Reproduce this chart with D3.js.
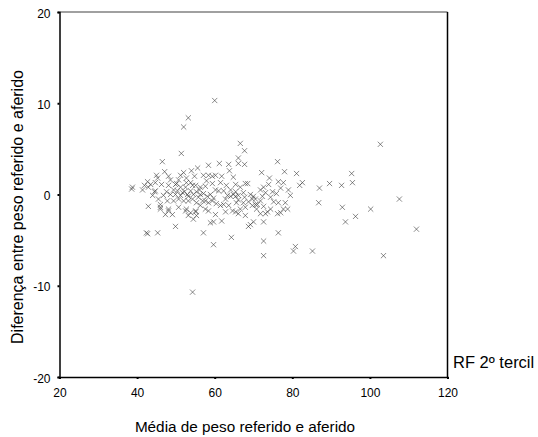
<!DOCTYPE html>
<html><head><meta charset="utf-8">
<script src="https://cdn.jsdelivr.net/npm/d3@7"></script>
<style>body{margin:0;background:#fff}svg{display:block}text{font-family:"Liberation Sans",Arial,sans-serif;fill:#000}</style>
</head><body>
<script>
const xTicks = [20, 40, 60, 80, 100, 120];
const yTicks = [-20, -10, 0, 10, 20];
const xLabel = "Média de peso referido e aferido";
const yLabel = "Diferença entre peso referido e aferido";
const groupLabel = "RF 2º tercil";
// mean weight (x)
const meanWeight = [
60.0,53.2,52.0,66.6,67.7,51.4,102.7,46.5,58.4,61.2,63.6,66.1,67.7,66.1,63.8,47.1,45.0,52.0,54.0,55.6,
42.7,44.7,38.8,38.6,42.9,42.4,42.7,45.3,49.9,57.1,58.9,61.8,64.3,68.7,69.2,70.0,59.7,72.6,72.6,76.4,
80.8,80.3,85.2,103.5,54.3,76.2,78.0,72.1,81.1,74.1,76.4,77.7,82.6,81.9,87.0,89.6,92.7,95.3,95.5,86.8,
92.9,100.2,107.6,96.3,93.7,112.0,77.0,67.9,68.5,71.8,72.6,73.1,72.3,74.9,70.0,70.5,71.0,67.4,67.9,66.6,
72.6,75.2,76.4,78.2,74.4,76.2,77.7,73.1,72.6,73.6,78.8,77.0,69.2,65.4,66.1,64.8,59.4,60.2,48.1,54.8,
57.1,58.4,61.8,59.4,65.4,42.9,44.7,46.3,48.1,49.4,50.4,51.7,52.5,53.8,54.5,53.0,55.8,56.9,57.6,58.9,
60.2,61.0,62.3,64.1,63.3,64.8,66.1,67.4,45.5,46.0,47.8,49.4,49.9,50.7,52.0,53.2,46.0,48.1,49.1,52.5,
53.2,55.1,54.5,57.6,58.4,62.3,63.6,64.6,65.4,66.1,69.7,70.5,71.8,45.3,44.5,51.2,54.3,55.3,56.3,52.7,
49.9,57.6,50.7,56.3,59.7,43.5,41.4,46.0,48.1,52.7,53.8,55.1,58.4,59.7,
48.6,50.2,51.2,52.2,53.2,54.3,55.3,56.3,51.2,52.7,53.8,55.1,56.1,57.1,58.1,59.4,60.4,61.5,62.8,64.1,
65.4,66.6,67.7,68.7,69.7,70.8,71.8,65.6,63.0,61.5,57.9,47.6,46.8,48.6,44.0,41.9,47.3,50.7,55.3,60.2,
62.8,67.9,74.4,75.9,79.5,79.0,73.9
];
// difference reported - measured (y)
const diffWeight = [
10.3,8.4,7.4,5.6,4.8,4.5,5.5,3.6,3.2,3.4,3.3,4.0,3.3,3.4,2.6,2.5,2.1,2.4,2.6,2.9,
1.4,1.3,0.8,0.6,-1.3,-4.2,-4.3,-4.2,-3.5,-4.2,-3.1,-2.9,-4.7,-3.5,-3.3,-3.0,-5.5,-5.1,-6.7,-4.2,
-5.7,-6.2,-6.2,-6.7,-10.7,3.6,2.5,2.4,2.3,1.8,1.4,1.3,1.3,1.0,0.7,1.2,1.0,2.3,1.3,-0.9,
-1.4,-1.6,-0.5,-2.4,-3.0,-3.8,0.7,1.2,1.2,0.5,0.8,0.2,-0.2,0.3,-0.2,-0.5,-1.1,-0.9,-1.4,-1.6,
-1.3,-0.8,-0.9,-0.9,-1.6,-2.1,-1.6,-2.1,-3.0,-1.9,-1.6,-2.0,0.0,-1.9,-2.1,1.9,2.0,2.1,2.0,2.0,
2.1,2.1,2.0,1.2,1.1,0.8,0.4,1.1,1.0,0.5,0.4,0.2,0.8,0.4,0.0,0.0,-0.3,-0.7,-0.7,0.0,
0.5,0.4,0.4,0.5,-0.1,0.0,-0.1,0.2,-0.5,-1.1,-0.7,-0.7,0.0,-0.5,-0.7,-0.7,-1.6,-1.6,-2.2,-1.8,
-2.3,-1.8,-2.7,-1.6,-1.8,-1.1,-1.2,-1.8,-0.2,-0.6,-0.5,-1.1,-0.7,1.8,0.3,-0.1,1.0,0.3,0.8,1.3,
1.1,0.9,1.6,0.0,-0.4,1.1,0.5,-1.4,-1.8,-1.6,-2.0,-1.9,-0.9,-3.0,
1.6,1.2,0.8,0.3,-0.2,-0.5,-0.9,-1.2,2.1,1.8,1.3,1.0,0.5,0.1,-0.2,-0.7,-1.0,-1.2,-0.5,-0.2,
0.3,0.8,-0.3,-0.8,-1.2,-1.6,-2.1,-0.9,1.0,1.3,1.5,0.3,-0.1,0.0,-0.1,1.0,-2.2,-1.4,-2.3,-2.2,
-1.9,-2.3,-0.3,0.1,-0.1,0.5,1.1
];

const W = 538, H = 437;
const svg = d3.select("body").append("svg").attr("width", W).attr("height", H);
const x = d3.scaleLinear().domain([20, 120]).range([59.5, 447.5]);
const y = d3.scaleLinear().domain([-20, 20]).range([377, 12]);

// frame
svg.append("line").attr("x1", x(20)).attr("x2", x(120)).attr("y1", y(20)).attr("y2", y(20))
  .attr("stroke", "#808080").attr("stroke-width", 1.5);
svg.append("line").attr("x1", x(120)).attr("x2", x(120)).attr("y1", y(20)).attr("y2", y(-20))
  .attr("stroke", "#000").attr("stroke-width", 1.5);

const fmt = d => String(d);
const xa = svg.append("g").attr("transform", `translate(0,${y(-20)})`)
  .call(d3.axisBottom(x).tickValues(xTicks).tickSize(2).tickPadding(9).tickFormat(fmt));
const ya = svg.append("g").attr("transform", `translate(${x(20)},0)`)
  .call(d3.axisLeft(y).tickValues(yTicks).tickSize(2).tickPadding(7).tickFormat(fmt));
[xa, ya].forEach(g => {
  g.select(".domain").attr("stroke", "#000").attr("stroke-width", 1.5);
  g.selectAll(".tick line").attr("stroke", "#000").attr("stroke-width", 2);
  g.selectAll("text").style("font-size", "12px").style("font-family", "Liberation Sans, Arial, sans-serif").attr("fill", "#000");
});
ya.selectAll("text").attr("dy", "0.42em");

// points
const s = 2.6;
const pts = svg.append("g").attr("stroke", "#3a3a3a").attr("stroke-width", 0.8).attr("stroke-opacity", 0.75).attr("fill", "none");
meanWeight.forEach((mx, i) => {
  const px = x(mx), py = y(diffWeight[i]);
  pts.append("path").attr("d", `M${px - s},${py - s}L${px + s},${py + s}M${px - s},${py + s}L${px + s},${py - s}`);
});

svg.append("text").attr("x", 245).attr("y", 432).attr("text-anchor", "middle").style("font-size", "15.3px").text(xLabel);
svg.append("text").attr("transform", "translate(23,207) rotate(-90)").attr("text-anchor", "middle").style("font-size", "16px").text(yLabel);
svg.append("text").attr("x", 453).attr("y", 368).style("font-size", "16.5px").text(groupLabel);
</script>
</body></html>
